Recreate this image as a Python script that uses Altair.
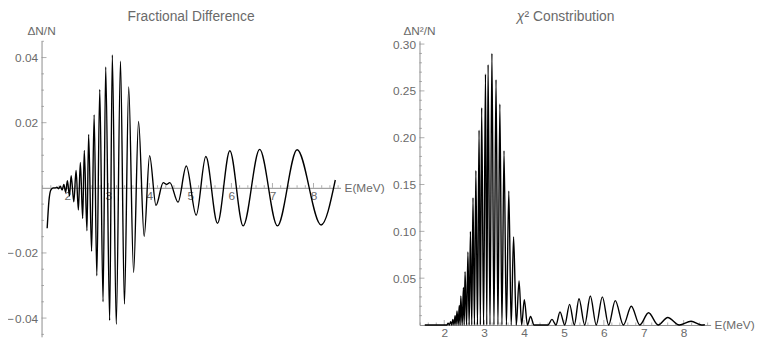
import altair as alt
import pandas as pd

# ---------------- data ----------------
# Fractional difference: extrema of the oscillating curve (E in MeV, dN/N)
frac_E = [1.512, 1.555, 1.603, 1.663, 1.712, 1.748, 1.788, 1.832, 1.875, 1.918,
          1.962, 2.005, 2.055, 2.096, 2.161, 2.216, 2.272, 2.320, 2.377, 2.416,
          2.481, 2.522, 2.594, 2.656, 2.721, 2.793, 2.873, 2.938, 3.034, 3.099,
          3.195, 3.298, 3.394, 3.498, 3.618, 3.738, 3.875, 4.007, 4.163, 4.339,
          4.421, 4.500, 4.700, 4.901, 5.142, 5.377, 5.661, 5.962, 6.286, 6.688,
          7.120, 7.601, 8.185, 8.531]
frac_v = [-0.0124, -0.0040, -0.0006, 0.0, 0.0, 0.0002, -0.0003, 0.0005, -0.0007, 0.0010,
          -0.0014, 0.0022, -0.0025, 0.0037, -0.0043, 0.0053, -0.0068, 0.0078, -0.0094, 0.0115,
          -0.0132, 0.0164, -0.0195, 0.0224, -0.0270, 0.0302, -0.0350, 0.0371, -0.0407, 0.0408,
          -0.0419, 0.0389, -0.0357, 0.0310, -0.0260, 0.0204, -0.0149, 0.0099, -0.0054, 0.0016,
          0.0010, 0.0016, -0.0044, 0.0067, -0.0084, 0.0096, -0.0109, 0.0114, -0.0117, 0.0118,
          -0.0117, 0.0117, -0.0114, 0.0024]

# chi^2 contribution: peaks and zero touches (E in MeV, dN^2/N)
chi_E = [1.512, 2.070, 2.096, 2.128, 2.161, 2.190, 2.216, 2.245, 2.272, 2.296,
         2.320, 2.350, 2.377, 2.397, 2.416, 2.450, 2.481, 2.500, 2.522, 2.560,
         2.594, 2.625, 2.656, 2.690, 2.721, 2.757, 2.793, 2.833, 2.873, 2.905,
         2.938, 2.986, 3.034, 3.066, 3.099, 3.147, 3.195, 3.246, 3.298, 3.346,
         3.394, 3.446, 3.498, 3.558, 3.618, 3.678, 3.738, 3.806, 3.875, 3.940,
         4.007, 4.085, 4.163, 4.250, 4.600, 4.700, 4.800, 4.901, 5.020, 5.142,
         5.260, 5.377, 5.520, 5.661, 5.810, 5.962, 6.120, 6.286, 6.490, 6.688,
         6.900, 7.120, 7.360, 7.601, 7.890, 8.185, 8.450, 8.531]
chi_v = [0.0, 0.0, 0.002, 0.0, 0.0035, 0.0, 0.006, 0.0, 0.010, 0.0,
         0.015, 0.0, 0.021, 0.0, 0.031, 0.0, 0.040, 0.0, 0.057, 0.0,
         0.078, 0.0, 0.100, 0.0, 0.136, 0.0, 0.165, 0.0, 0.208, 0.0,
         0.232, 0.0, 0.268, 0.0, 0.278, 0.0, 0.290, 0.0, 0.262, 0.0,
         0.236, 0.0, 0.186, 0.0, 0.143, 0.0, 0.094, 0.0, 0.047, 0.0,
         0.027, 0.0, 0.009, 0.0, 0.0, 0.006, 0.0, 0.014, 0.0, 0.022,
         0.0, 0.028, 0.0, 0.031, 0.0, 0.030, 0.0, 0.026, 0.0, 0.020,
         0.0, 0.013, 0.0, 0.008, 0.0, 0.004, 0.0, 0.0002]

# tick positions
x_major = [2, 3, 4, 5, 6, 7, 8]
x_minor = [1.4, 1.6, 1.8, 2.2, 2.4, 2.6, 2.8, 3.2, 3.4, 3.6, 3.8, 4.2, 4.4, 4.6, 4.8,
           5.2, 5.4, 5.6, 5.8, 6.2, 6.4, 6.6, 6.8, 7.2, 7.4, 7.6, 7.8, 8.2, 8.4, 8.6]
frac_y_major = [-0.04, -0.02, 0.02, 0.04]
frac_y_minor = [-0.045, -0.035, -0.03, -0.025, -0.015, -0.01, -0.005,
                0.005, 0.01, 0.015, 0.025, 0.03, 0.035, 0.045]
chi_y_major = [0.05, 0.10, 0.15, 0.20, 0.25, 0.30]
chi_y_minor = [0.01, 0.02, 0.03, 0.04, 0.06, 0.07, 0.08, 0.09, 0.11, 0.12, 0.13, 0.14,
               0.16, 0.17, 0.18, 0.19, 0.21, 0.22, 0.23, 0.24, 0.26, 0.27, 0.28, 0.29]

FONT = "Liberation Sans"
AX = "#8c8c8c"
TXT = "#6a6a6a"


def panel(E, V, xdom, ydom, w, h, y_major, y_minor, ylabel_expr, title_parts, ylab, xoffset):
    xs = alt.Scale(domain=xdom, nice=False, zero=False)
    ys = alt.Scale(domain=ydom, nice=False, zero=False)
    xaxis = alt.Axis(values=x_major, format="d", ticks=False, grid=False, title=None,
                     domainColor=AX, domainWidth=1, labelColor=TXT, labelFont=FONT,
                     labelFontSize=12, labelPadding=3, offset=xoffset,
                     labelFlush=False, labelOverlap=False)
    yaxis = alt.Axis(values=y_major, labelExpr=ylabel_expr, ticks=False, grid=False,
                     title=None, domainColor=AX, domainWidth=1, labelColor=TXT,
                     labelFont=FONT, labelFontSize=12, labelPadding=4,
                     labelFlush=False, labelOverlap=False)

    df = pd.DataFrame({"E": E, "v": V})
    line = alt.Chart(df).mark_line(interpolate="monotone", color="black",
                                   strokeWidth=1.4).encode(
        x=alt.X("E:Q", scale=xs, axis=xaxis),
        y=alt.Y("v:Q", scale=ys, axis=yaxis),
    )

    def xticks(vals, size):
        return alt.Chart(pd.DataFrame({"E": vals})).mark_tick(
            orient="vertical", size=size, thickness=1, color=AX, yOffset=-size / 2
        ).encode(
            x=alt.X("E:Q", scale=xs, axis=xaxis),
            y=alt.Y(datum=0, scale=ys, axis=yaxis),
        )

    def yticks(vals, size):
        return alt.Chart(pd.DataFrame({"v": vals})).mark_tick(
            orient="horizontal", size=size, thickness=1, color=AX, xOffset=size / 2
        ).encode(
            x=alt.X(datum=xdom[0], scale=xs, axis=xaxis),
            y=alt.Y("v:Q", scale=ys, axis=yaxis),
        )

    one = pd.DataFrame({"a": [0]})
    title_layers = []
    for text, align, dx, style in title_parts:
        title_layers.append(
            alt.Chart(one).mark_text(text=text, font=FONT, fontSize=14, color=TXT,
                                     align=align, baseline="middle", dx=dx, dy=-24,
                                     fontStyle=style).encode(
                x=alt.X(datum=(xdom[0] + xdom[1]) / 2, scale=xs, axis=xaxis),
                y=alt.Y(datum=ydom[1], scale=ys, axis=yaxis),
            )
        )
    ylab_t = alt.Chart(one).mark_text(text=ylab, font=FONT, fontSize=12, color=TXT,
                                      align="center", baseline="middle", dy=-10).encode(
        x=alt.X(datum=xdom[0], scale=xs, axis=xaxis),
        y=alt.Y(datum=ydom[1], scale=ys, axis=yaxis),
    )
    xlab_t = alt.Chart(one).mark_text(text="E(MeV)", font=FONT, fontSize=12, color=TXT,
                                      align="left", baseline="middle", dx=4).encode(
        x=alt.X(datum=xdom[1], scale=xs, axis=xaxis),
        y=alt.Y(datum=0, scale=ys, axis=yaxis),
    )

    return alt.layer(
        xticks(x_minor, 2.5), xticks(x_major, 5),
        yticks(y_minor, 2.5), yticks(y_major, 5),
        line, *title_layers, ylab_t, xlab_t,
    ).properties(width=w, height=h)


left = panel(frac_E, frac_v, [1.375, 8.659], [-0.04576, 0.04515], 303, 300,
             frac_y_major, frac_y_minor,
             "datum.value < 0 ? '\u2212\u200a' + format(-datum.value, '.2f') : format(datum.value, '.2f')",
             [("Fractional Difference", "center", 0, "normal")], "\u0394N/N", -151)

right = panel(chi_E, chi_v, [1.38, 8.675], [0.0, 0.3035], 295, 288,
              chi_y_major, chi_y_minor,
              "format(datum.value, '.2f')",
              [("\u03c7", "left", -49, "italic"),
               ("\u00b2 Constribution", "left", -41, "normal")],
              "\u0394N\u00b2/N", 0)

chart = alt.hconcat(left, right, spacing=80, bounds="flush").properties(
    padding={"left": -2, "top": 0, "right": 0, "bottom": 0}
).configure_view(stroke=None)

chart.save("out.html", embed_options={"renderer": "svg", "actions": False})
